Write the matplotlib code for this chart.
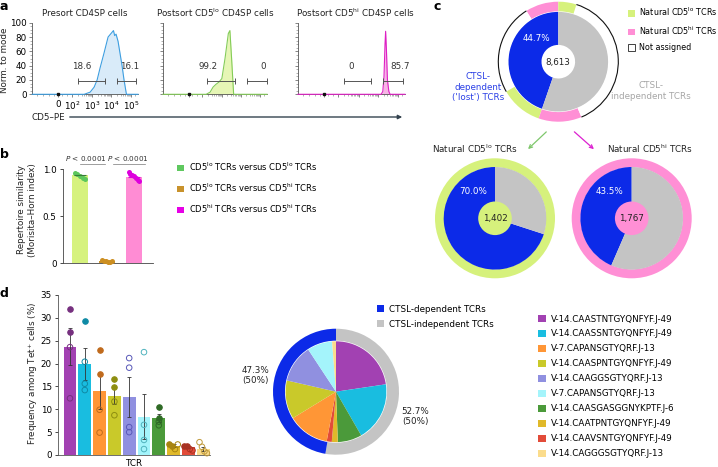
import numpy as np
import matplotlib
matplotlib.use('Agg')
import matplotlib.pyplot as plt
from matplotlib.patches import Patch, Arc, FancyArrowPatch, Circle
from matplotlib.ticker import MultipleLocator, FixedLocator

W, H = 718, 467
DPI = 100
FS = 6.3

# ---------------- data ----------------
# panel a: histograms (x in biexponential display units, y = % of mode)
pre_x = [0.0, 2.6, 2.9, 3.1, 3.25, 3.4, 3.6, 3.8, 3.95, 4.07, 4.13, 4.2, 4.3, 4.4, 4.5, 4.6, 4.72, 5.3]
pre_y = [0, 0, 3, 10, 20, 37, 58, 80, 85, 89, 82, 84, 74, 57, 40, 20, 0, 0]
lo_x = [0.0, 2.2, 2.4, 2.55, 2.7, 2.85, 3.0, 3.16, 3.33, 3.41, 3.5, 3.6, 5.3]
lo_y = [0, 0, 3, 10, 14, 17, 22, 50, 85, 89, 48, 0, 0]
hi_x = [0.0, 4.12, 4.2, 4.26, 4.31, 4.34, 4.38, 4.43, 4.5, 4.56, 5.3]
hi_y = [0, 0, 4, 25, 70, 88, 62, 20, 4, 0, 0]
hist_titles = ['Presort CD4SP cells', 'Postsort CD5$^{lo}$ CD4SP cells', 'Postsort CD5$^{hi}$ CD4SP cells']
gate_low = ['18.6', '99.2', '0']
gate_high = ['16.1', '0', '85.7']
xtick_labels = ['0', '$10^{2}$', '$10^{3}$', '$10^{4}$', '$10^{5}$']
ytick_vals_a = [0, 20, 40, 60, 80, 100]

# panel b
sim_labels = ['CD5$^{lo}$ TCRs versus CD5$^{lo}$ TCRs',
              'CD5$^{lo}$ TCRs versus CD5$^{hi}$ TCRs',
              'CD5$^{hi}$ TCRs versus CD5$^{hi}$ TCRs']
sim_means = [0.94, 0.02, 0.92]
sim_points = [[0.96, 0.95, 0.93, 0.91, 0.90],
              [0.03, 0.02, 0.02, 0.01, 0.01, 0.02],
              [0.97, 0.95, 0.94, 0.93, 0.91, 0.89, 0.88]]
pvals = ['P < 0.0001', 'P < 0.0001']

# panel c
total_tcrs = 8613
dep_pct = 44.7
lo_n, lo_dep_pct = 1402, 70.0
hi_n, hi_dep_pct = 1767, 43.5

# panel d
tcr_names = ['V-14.CAASTNTGYQNFYF.J-49', 'V-14.CAASSNTGYQNFYF.J-49', 'V-7.CAPANSGTYQRF.J-13',
             'V-14.CAASPNTGYQNFYF.J-49', 'V-14.CAAGGSGTYQRF.J-13', 'V-7.CAPANSGTYQRF.J-13',
             'V-14.CAASGASGGNYKPTF.J-6', 'V-14.CAATPNTGYQNFYF.J-49', 'V-14.CAAVSNTGYQNFYF.J-49',
             'V-14.CAGGGSGTYQRF.J-13']
tcr_means = [23.7, 19.9, 13.9, 12.9, 12.7, 8.4, 8.1, 2.0, 1.7, 1.3]
tcr_sem = [4.1, 3.4, 3.8, 1.8, 4.3, 5.0, 0.8, 0.3, 0.25, 0.5]
tcr_points = [[32.0, 26.9, 23.6, 12.4],
              [29.3, 20.4, 15.6, 14.2],
              [23.0, 17.7, 9.9, 4.9],
              [16.6, 14.8, 11.7, 8.7],
              [21.2, 19.1, 6.1, 5.0],
              [22.5, 6.6, 3.3, 1.3],
              [10.4, 8.2, 7.3, 6.5],
              [2.3, 2.0, 1.3, 2.3],
              [2.0, 2.0, 1.3, 1.0],
              [2.8, 1.8, 0.8, 0.4]]
tcr_filled = [[1, 1, 0, 0], [1, 0, 0, 0], [1, 1, 0, 0], [1, 1, 0, 0], [0, 0, 0, 0],
              [0, 0, 0, 0], [1, 1, 0, 0], [1, 1, 0, 0], [1, 1, 0, 0], [0, 0, 0, 0]]
tcr_dependent = [0, 0, 1, 1, 1, 1, 0, 0, 1, 1]
dep_share_d = 47.3
dep_count_share = 50

# ---------------- styles ----------------
BLUE = '#0c2ae8'
GRAY = '#c4c4c4'
LOG = '#d6f17c'
HIG = '#ff8fd5'
tcr_colors = ['#a241b2', '#19bde0', '#ff9636', '#c9c92a', '#9090e0', '#a4f4fb',
              '#4b9a3a', '#e0b92a', '#e24b39', '#fbdc8c']
tcr_pt_colors = ['#76307f', '#0f8aa5', '#c06a1c', '#8e8e10', '#5858b8', '#4fb3bd',
                 '#2f6a25', '#a88410', '#a83222', '#c09a3c']

plt.rcParams['font.family'] = 'DejaVu Sans'
plt.rcParams['font.size'] = FS
plt.rcParams['mathtext.default'] = 'regular'
plt.rcParams['axes.linewidth'] = 0.6
TXT = '#222222'

fig = plt.figure(figsize=(W / DPI, H / DPI), dpi=DPI)


def add_ax(x0, y0, x1, y1):
    return fig.add_axes([x0 / W, 1 - y1 / H, (x1 - x0) / W, (y1 - y0) / H])


def ftext(x, y, s, **kw):
    kw.setdefault('color', TXT)
    return fig.text(x / W, 1 - y / H, s, **kw)


def plabel(x, y, s):
    ftext(x, y, s, fontsize=9, fontweight='bold', ha='left', va='top', color='black')


# ---------------- panel a ----------------
hist_boxes = [(32.3, 138.0), (163.0, 267.0), (298.0, 405.0)]
hist_data = [(pre_x, pre_y, '#3d9ee0', '#d9ebf9'),
             (lo_x, lo_y, '#84cc58', '#e6f6b5'),
             (hi_x, hi_y, '#de1fc4', '#f7b5e6')]
xt_pos = [1.3, 2.0, 3.0, 3.95, 4.95]
minor_pos = []
for k in range(3):
    a, b = xt_pos[k + 1], xt_pos[k + 2]
    for m in range(2, 10):
        minor_pos.append(a + np.log10(m) * (b - a))
minor_pos += [0.25, 0.55, 0.85, 1.1, 1.5, 1.75, 5.15]
gate_pos_low = [(2.27, 3.65, 2.45), (2.26, 3.66, 2.29), (2.28, 3.63, 2.62)]
gate_pos_high = [(4.27, 5.2, 4.9), (4.3, 5.28, 5.1), (4.22, 5.21, 5.05)]

for i, ((x0, x1), (hx, hy, lc, fc)) in enumerate(zip(hist_boxes, hist_data)):
    ax = add_ax(x0, 22.7, x1, 94.3)
    ax.set_xlim(0, 5.3)
    ax.set_ylim(0, 100)
    ax.fill_between(hx, hy, 0, color=fc, lw=0, zorder=2)
    ax.plot(hx, hy, color=lc, lw=0.8, zorder=4, clip_on=False)
    for s in ['top', 'right']:
        ax.spines[s].set_visible(False)
    for s in ['left', 'bottom']:
        ax.spines[s].set_color('#555555')
        ax.spines[s].set_linewidth(0.6)
    ax.xaxis.set_major_locator(FixedLocator(xt_pos))
    ax.xaxis.set_minor_locator(FixedLocator(minor_pos))
    ax.yaxis.set_major_locator(FixedLocator(ytick_vals_a))
    ax.yaxis.set_minor_locator(MultipleLocator(5))
    ax.tick_params(which='major', length=2.5, width=0.5, color='#555555', pad=1.5, labelsize=FS)
    ax.tick_params(which='minor', length=1.3, width=0.4, color='#777777')
    if i == 0:
        ax.set_xticklabels(xtick_labels)
        ax.set_yticklabels([str(v) for v in ytick_vals_a])
    else:
        ax.set_xticklabels([])
        ax.set_yticklabels([])
    ax.plot([xt_pos[0]], [0], marker='s', ms=2, color='#111111', zorder=5, clip_on=False)
    for (ga, gb, gl), txt in [(gate_pos_low[i], gate_low[i]), (gate_pos_high[i], gate_high[i])]:
        ax.plot([ga, gb], [18.5, 18.5], color='#555555', lw=0.7, zorder=5)
        ax.plot([ga, gb], [18.5, 18.5], ls='none', marker='|', ms=4, mew=0.7, color='#555555', zorder=5)
        ax.text(gl, 39, txt, ha='center', va='center', fontsize=FS, color='#333333')
    ftext((x0 + x1) / 2 + (0 if i < 2 else 4), 13, hist_titles[i], ha='center', va='center', fontsize=FS)

ftext(5, 60, 'Norm. to mode', rotation=90, ha='center', va='center', fontsize=FS)
ftext(32, 117, 'CD5–PE', ha='left', va='center', fontsize=FS)
fig.add_artist(FancyArrowPatch((67 / W, 1 - 117 / H), (405 / W, 1 - 117 / H),
                               transform=fig.transFigure, arrowstyle='-|>', mutation_scale=6,
                               lw=1.0, color='#34434f'))
plabel(0, 0, 'a')

# ---------------- panel b ----------------
axb = add_ax(63, 263.3 - 1.15 * 94, 153, 263.3)
axb.set_xlim(-0.63, 2.7)
axb.set_ylim(0, 1.15)
b_bar_cols = ['#d6f27e', '#c9912c', '#ff8cd4']
b_pt_cols = ['#5cc75c', '#cc8f22', '#dd00dd']
xs = np.arange(3)
axb.bar(xs, sim_means, width=0.62, color=b_bar_cols, zorder=1)
for j, pts in enumerate(sim_points):
    offs = np.linspace(-0.2, 0.2, len(pts))
    axb.scatter(xs[j] + offs, pts, s=13, color=b_pt_cols[j], zorder=3, lw=0, clip_on=False)
    axb.hlines(sim_means[j], xs[j] - 0.22, xs[j] + 0.22, color='#3a7a3a' if j == 0 else b_pt_cols[j],
               lw=0.8, zorder=4)
for s in ['top', 'right']:
    axb.spines[s].set_visible(False)
axb.spines['left'].set_bounds(0, 1.0)
for s in ['left', 'bottom']:
    axb.spines[s].set_color('#444444')
axb.set_xticks([])
axb.set_yticks([0, 0.5, 1.0])
axb.set_yticklabels(['0', '0.5', '1.0'])
axb.tick_params(length=2.5, width=0.5, pad=2, labelsize=FS)
p_lines = [(0.0, 0.93, 0.22), (1.22, 2.4, 1.78)]
for (la, lb, tx), pv in zip(p_lines, pvals):
    axb.plot([la, lb], [1.056, 1.056], color='#777777', lw=0.5, clip_on=False)
    axb.text(tx, 1.112, '$\\it{P}$' + pv[1:], ha='center', va='center', fontsize=5.2, color='#333333')
ftext(27, 210, 'Repertoire similarity\n(Morisita–Horn index)', rotation=90, ha='center',
      va='center', fontsize=FS, linespacing=1.15)
fig.legend(handles=[Patch(facecolor=c, edgecolor='none') for c in ['#5fc85f', '#c8922c', '#e600e6']],
           labels=sim_labels, loc='upper left', bbox_to_anchor=(176.5 / W, 1 - 160.5 / H),
           bbox_transform=fig.transFigure, frameon=False, fontsize=6.05, handlelength=0.88,
           handleheight=0.88, handletextpad=0.6, labelspacing=1.02, borderpad=0, borderaxespad=0)
plabel(0, 148, 'b')


# ---------------- panel c ----------------
PAD = 1.04


def donut_ax(cx, cy, R):
    ax = add_ax(cx - R * PAD, cy - R * PAD, cx + R * PAD, cy + R * PAD)
    ax.axis('off')
    return ax


def fix_lims(ax):
    ax.set_xlim(-PAD, PAD)
    ax.set_ylim(-PAD, PAD)
    ax.set_aspect('equal')


axc = donut_ax(558.3, 61.7, 60)
axc.pie([dep_pct, 100 - dep_pct], colors=[BLUE, GRAY], startangle=90, counterclock=True,
        radius=0.83, wedgeprops=dict(width=0.55, linewidth=0))
lo_dep = lo_n * lo_dep_pct / 100
hi_dep = hi_n * hi_dep_pct / 100
dep_total = total_tcrs * dep_pct / 100
ring_vals = [hi_dep, dep_total - hi_dep - lo_dep, lo_dep,
             hi_n - hi_dep, total_tcrs - dep_total - (hi_n - hi_dep) - (lo_n - lo_dep), lo_n - lo_dep]
ring_cols = [HIG, 'white', LOG, HIG, 'white', LOG]
wedges, _ = axc.pie(ring_vals, colors=ring_cols, startangle=90, counterclock=True, radius=1.0,
                    wedgeprops=dict(width=0.16, linewidth=0))
for w, c in zip(wedges, ring_cols):
    if c == 'white':
        axc.add_patch(Arc((0, 0), 2.0, 2.0, theta1=w.theta1, theta2=w.theta2, lw=0.8, color='#111111'))
fix_lims(axc)
ftext(558.3, 62, f'{total_tcrs:,}', ha='center', va='center', fontsize=FS)
ftext(536.7, 38.5, f'{dep_pct:.1f}%', ha='center', va='center', fontsize=FS, color='white')
ftext(478, 87, "CTSL-\ndependent\n('lost') TCRs", ha='center', va='center', fontsize=FS,
      color='#2b40e6', linespacing=1.2)
ftext(651, 91, 'CTSL-\nindependent TCRs', ha='center', va='center', fontsize=FS,
      color='#a6a6a6', linespacing=1.2)
fig.legend(handles=[Patch(facecolor=LOG, edgecolor='none'), Patch(facecolor=HIG, edgecolor='none'),
                    Patch(facecolor='white', edgecolor='#222222', lw=0.6)],
           labels=['Natural CD5$^{lo}$ TCRs', 'Natural CD5$^{hi}$ TCRs', 'Not assigned'],
           loc='upper left', bbox_to_anchor=(627.5 / W, 1 - 5.5 / H),
           bbox_transform=fig.transFigure, frameon=False, fontsize=5.8, handlelength=0.92,
           handleheight=0.92, handletextpad=0.5, labelspacing=0.8, borderpad=0, borderaxespad=0)

for (cx, pct, n, col, title, tx) in [(495, lo_dep_pct, lo_n, LOG, 'Natural CD5$^{lo}$ TCRs', 475),
                                     (631.7, hi_dep_pct, hi_n, HIG, 'Natural CD5$^{hi}$ TCRs', 650)]:
    ax = donut_ax(cx, 218.3, 60)
    ax.pie([n], colors=[col], radius=1.0, wedgeprops=dict(width=0.15, linewidth=0))
    ax.pie([pct, 100 - pct], colors=[BLUE, GRAY], startangle=90, counterclock=True, radius=0.855,
           wedgeprops=dict(linewidth=0))
    ax.add_patch(Circle((0, 0), 0.28, color=col, lw=0))
    fix_lims(ax)
    ftext(cx, 218.5, f'{n:,}', ha='center', va='center', fontsize=FS)
    ftext(cx - 22, 191.7, f'{pct:.1f}%', ha='center', va='center', fontsize=FS, color='white')
    ftext(tx, 149, title, ha='center', va='center', fontsize=FS)

fig.add_artist(FancyArrowPatch((548.3 / W, 1 - 130 / H), (526 / W, 1 - 151 / H),
                               transform=fig.transFigure, arrowstyle='->', mutation_scale=6,
                               lw=0.9, color='#7fc76c'))
fig.add_artist(FancyArrowPatch((572.3 / W, 1 - 130 / H), (596 / W, 1 - 151 / H),
                               transform=fig.transFigure, arrowstyle='->', mutation_scale=6,
                               lw=0.9, color='#dc20d0'))
plabel(433, 0, 'c')

# ---------------- panel d: bars ----------------
axd = add_ax(58, 295, 210, 455)
n_t = len(tcr_means)
xd = np.arange(n_t)
axd.set_xlim(-0.81, 9.46)
axd.set_ylim(0, 35)
axd.bar(xd, tcr_means, width=0.86, color=tcr_colors, zorder=1)
axd.errorbar(xd, tcr_means, yerr=tcr_sem, fmt='none', ecolor='#333333', elinewidth=0.6,
             capsize=1.5, capthick=0.6, zorder=2)
spread = [0, 0, 0, 0, 0, 0, 0, 0.28, 0.28, 0.25]
for j in range(n_t):
    pts = tcr_points[j]
    offs = np.linspace(-spread[j], spread[j], len(pts))
    for k, v in enumerate(pts):
        fc = tcr_pt_colors[j] if tcr_filled[j][k] else 'none'
        axd.scatter(xd[j] + offs[k], v, s=16, facecolors=fc, edgecolors=tcr_pt_colors[j],
                    linewidths=0.7, zorder=3, clip_on=False)
for s in ['top', 'right']:
    axd.spines[s].set_visible(False)
for s in ['left', 'bottom']:
    axd.spines[s].set_color('#555555')
axd.set_xticks([])
axd.set_yticks(np.arange(0, 36, 5))
axd.tick_params(length=2.5, width=0.5, pad=2, labelsize=FS)
axd.set_xlabel('TCR', fontsize=FS, labelpad=3)
ftext(33, 373, 'Frequency among Tet$^{+}$ cells (%)', rotation=90, ha='center', va='center', fontsize=FS)
plabel(0, 287, 'd')

# ---------------- panel d: pie ----------------
axp = donut_ax(336, 391.7, 63)
axp.pie([100 - dep_share_d, dep_share_d], colors=[GRAY, BLUE], startangle=90, counterclock=False,
        radius=1.0, wedgeprops=dict(width=0.19, linewidth=0))
order = [i for i in range(n_t) if not tcr_dependent[i]] + [8, 2, 3, 4, 5, 9]
axp.pie([tcr_means[i] for i in order], colors=[tcr_colors[i] for i in order], startangle=90,
        counterclock=False, radius=0.8, wedgeprops=dict(linewidth=0))
fix_lims(axp)
ftext(255.5, 375.5, f'{dep_share_d:.1f}%\n({dep_count_share}%)', ha='center', va='center',
      fontsize=FS, linespacing=1.25)
ftext(415.5, 416.5, f'{100 - dep_share_d:.1f}%\n({100 - dep_count_share}%)', ha='center', va='center',
      fontsize=FS, linespacing=1.25)
fig.legend(handles=[Patch(facecolor=BLUE, edgecolor='none'), Patch(facecolor=GRAY, edgecolor='none')],
           labels=['CTSL-dependent TCRs', 'CTSL-independent TCRs'], loc='upper left',
           bbox_to_anchor=(376.5 / W, 1 - 304.5 / H), bbox_transform=fig.transFigure, frameon=False,
           fontsize=FS, handlelength=0.85, handleheight=0.85, handletextpad=0.55, labelspacing=0.7,
           borderpad=0, borderaxespad=0)
fig.legend(handles=[Patch(facecolor=c, edgecolor='none') for c in tcr_colors], labels=tcr_names,
           loc='upper left', bbox_to_anchor=(538.3 / W, 1 - 314.5 / H), bbox_transform=fig.transFigure,
           frameon=False, fontsize=FS, handlelength=0.85, handleheight=0.85, handletextpad=0.6,
           labelspacing=0.68, borderpad=0, borderaxespad=0)

fig.savefig('out.png', dpi=DPI, facecolor='white')
